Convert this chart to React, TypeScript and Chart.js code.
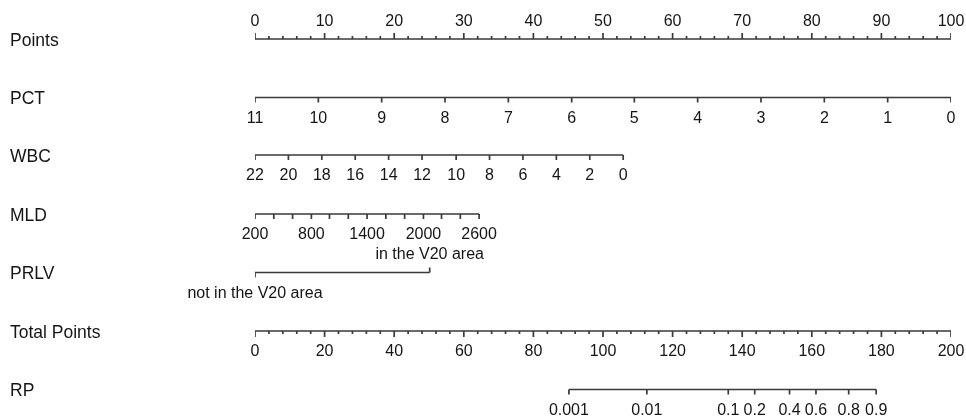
import React, { useEffect, useRef } from "react";
import { Chart, registerables } from "chart.js";

Chart.register(...registerables);

// ---------- data ----------
const ROW_NAMES = ["Points", "PCT", "WBC", "MLD", "PRLV", "Total Points", "RP"];

const POINTS_LABELS = [0, 10, 20, 30, 40, 50, 60, 70, 80, 90, 100];
const POINTS_MINOR_STEP = 2;

const PCT_LABELS = ["11", "10", "9", "8", "7", "6", "5", "4", "3", "2", "1", "0"];
const PCT_POINTS = [0, 9.1, 18.2, 27.3, 36.4, 45.5, 54.5, 63.6, 72.7, 81.8, 90.9, 100];

const WBC_LABELS = ["22", "20", "18", "16", "14", "12", "10", "8", "6", "4", "2", "0"];
const WBC_POINTS = [0, 4.8, 9.6, 14.4, 19.2, 24.0, 28.9, 33.7, 38.5, 43.3, 48.1, 52.9];

const MLD_VALUES = [200, 400, 600, 800, 1000, 1200, 1400, 1600, 1800, 2000, 2200, 2400, 2600];
const MLD_POINTS = [0, 2.7, 5.4, 8.1, 10.7, 13.4, 16.1, 18.8, 21.5, 24.2, 26.8, 29.5, 32.2];
const MLD_LABELED = [200, 800, 1400, 2000, 2600];

const PRLV_LABELS = ["not in the V20 area", "in the V20 area"];
const PRLV_POINTS = [0, 25.1];

const TOTAL_LABELS = [0, 20, 40, 60, 80, 100, 120, 140, 160, 180, 200];
const TOTAL_MINOR_STEP = 4;

const RP_LABELS = ["0.001", "0.01", "0.1", "0.2", "0.4", "0.6", "0.8", "0.9"];
const RP_TOTAL = [90.2, 112.6, 136.0, 143.6, 153.6, 161.2, 170.6, 178.5];

// ---------- layout / style ----------
const W = 966;
const H = 417;
const ROW_Y = [39, 97.5, 155, 214, 272.5, 331, 389.5];
const LINE_COLOR = "#3a3a3a";
const TEXT_COLOR = "#151515";
const FONT = '"Liberation Sans", Arial, Helvetica, sans-serif';
const NAME_FONT = 17.5;
const TICK_FONT = 16;
const MAJOR = 6;
const MINOR = 3;

type P = { x: number; y: number | null };

function range(a: number, b: number, step: number): number[] {
  const out: number[] = [];
  for (let v = a; v <= b + 1e-9; v += step) out.push(Math.round(v * 1000) / 1000);
  return out;
}

// builds one path: axis line + tick marks (separated by gaps)
function axisPath(from: number, to: number, y: number, ticks: { x: number; len: number; dir: number }[]): P[] {
  const pts: P[] = [
    { x: from, y },
    { x: to, y },
    { x: to, y: null },
  ];
  ticks.forEach((t) => {
    pts.push({ x: t.x, y });
    pts.push({ x: t.x, y: y + t.dir * t.len });
    pts.push({ x: t.x, y: null });
  });
  return pts;
}

function ds(data: P[], xAxisID = "x") {
  return {
    data,
    xAxisID,
    yAxisID: "y",
    showLine: true,
    spanGaps: false,
    borderColor: LINE_COLOR,
    borderWidth: 1.7,
    pointRadius: 0,
    pointHoverRadius: 0,
    tension: 0,
    fill: false,
  };
}

export default function App() {
  const ref = useRef<HTMLCanvasElement | null>(null);

  useEffect(() => {
    if (!ref.current) return;

    const pointsMinor = range(0, 100, POINTS_MINOR_STEP);
    const totalMinor = range(0, 200, TOTAL_MINOR_STEP);

    const datasets = [
      // Points (ticks upward)
      ds(
        axisPath(0, 100, ROW_Y[0], pointsMinor.map((v) => ({
          x: v,
          len: POINTS_LABELS.includes(v) ? MAJOR : MINOR,
          dir: -1,
        })))
      ),
      // PCT
      ds(axisPath(PCT_POINTS[0], PCT_POINTS[PCT_POINTS.length - 1], ROW_Y[1], PCT_POINTS.map((v) => ({ x: v, len: MAJOR - 1, dir: 1 })))),
      // WBC
      ds(axisPath(WBC_POINTS[0], WBC_POINTS[WBC_POINTS.length - 1], ROW_Y[2], WBC_POINTS.map((v) => ({ x: v, len: MAJOR - 1, dir: 1 })))),
      // MLD
      ds(axisPath(MLD_POINTS[0], MLD_POINTS[MLD_POINTS.length - 1], ROW_Y[3], MLD_POINTS.map((v) => ({ x: v, len: MAJOR - 1, dir: 1 })))),
      // PRLV (first tick down, second tick up)
      ds(axisPath(PRLV_POINTS[0], PRLV_POINTS[1], ROW_Y[4], PRLV_POINTS.map((v, i) => ({ x: v, len: MAJOR - 1, dir: i === 0 ? 1 : -1 })))),
      // Total Points
      ds(
        axisPath(0, 200, ROW_Y[5], totalMinor.map((v) => ({
          x: v,
          len: TOTAL_LABELS.includes(v) ? MAJOR : MINOR,
          dir: 1,
        }))),
        "x2"
      ),
      // RP
      ds(axisPath(RP_TOTAL[0], RP_TOTAL[RP_TOTAL.length - 1], ROW_Y[6], RP_TOTAL.map((v) => ({ x: v, len: MAJOR - 1, dir: 1 }))), "x2"),
    ];

    const textPlugin = {
      id: "nomogramText",
      afterDatasetsDraw(chart: any) {
        const { ctx, scales } = chart;
        const xs = scales.x;
        const xt = scales.x2;
        const ys = scales.y;
        const py = (v: number) => ys.getPixelForValue(v);
        ctx.save();
        ctx.fillStyle = TEXT_COLOR;
        ctx.textBaseline = "middle";

        // row names
        ctx.textAlign = "left";
        ctx.font = `${NAME_FONT}px ${FONT}`;
        ROW_NAMES.forEach((n, i) => ctx.fillText(n, 10, py(ROW_Y[i] + 2)));

        ctx.textAlign = "center";
        ctx.font = `${TICK_FONT}px ${FONT}`;
        const below = 21;
        const above = -17.5;

        POINTS_LABELS.forEach((v) => ctx.fillText(String(v), xs.getPixelForValue(v), py(ROW_Y[0] + above)));
        PCT_LABELS.forEach((t, i) => ctx.fillText(t, xs.getPixelForValue(PCT_POINTS[i]), py(ROW_Y[1] + below)));
        WBC_LABELS.forEach((t, i) => ctx.fillText(t, xs.getPixelForValue(WBC_POINTS[i]), py(ROW_Y[2] + below)));
        MLD_VALUES.forEach((v, i) => {
          if (MLD_LABELED.includes(v)) ctx.fillText(String(v), xs.getPixelForValue(MLD_POINTS[i]), py(ROW_Y[3] + below));
        });
        ctx.fillText(PRLV_LABELS[0], xs.getPixelForValue(PRLV_POINTS[0]), py(ROW_Y[4] + below));
        ctx.fillText(PRLV_LABELS[1], xs.getPixelForValue(PRLV_POINTS[1]), py(ROW_Y[4] + above));
        TOTAL_LABELS.forEach((v) => ctx.fillText(String(v), xt.getPixelForValue(v), py(ROW_Y[5] + below)));
        RP_LABELS.forEach((t, i) => ctx.fillText(t, xt.getPixelForValue(RP_TOTAL[i]), py(ROW_Y[6] + below)));

        ctx.restore();
      },
    };

    const chart = new Chart(ref.current, {
      type: "scatter",
      data: { datasets: datasets as any },
      options: {
        responsive: false,
        animation: false,
        devicePixelRatio: 1,
        layout: { padding: { left: 255, right: 15, top: 0, bottom: 0 } },
        plugins: { legend: { display: false }, tooltip: { enabled: false } },
        events: [],
        scales: {
          x: { type: "linear", min: 0, max: 100, display: false },
          x2: { type: "linear", axis: "x", min: 0, max: 200, display: false },
          y: { type: "linear", min: 0, max: H, reverse: true, display: false },
        },
      } as any,
      plugins: [textPlugin],
    });

    return () => chart.destroy();
  }, []);

  return (
    <div style={{ position: "fixed", left: 0, top: 0, width: W, height: H, background: "#fff" }}>
      <canvas ref={ref} width={W} height={H} style={{ display: "block", width: W, height: H }} />
    </div>
  );
}
